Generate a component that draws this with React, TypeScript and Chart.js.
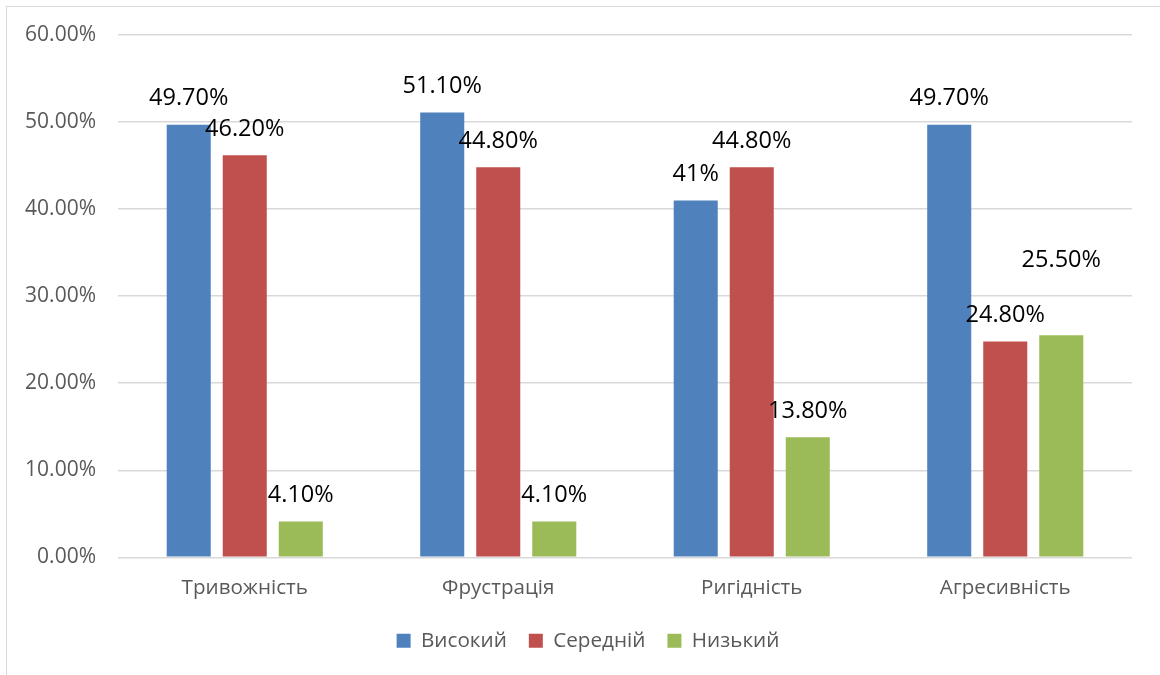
import React, { useEffect, useRef } from "react";
import { Chart, registerables } from "chart.js";

Chart.register(...registerables);

const categories = ["Тривожність", "Фрустрація", "Ригідність", "Агресивність"];
const seriesNames = ["Високий", "Середній", "Низький"];
const highValues = [49.7, 51.1, 41.0, 49.7];
const midValues = [46.2, 44.8, 44.8, 24.8];
const lowValues = [4.1, 4.1, 13.8, 25.5];
const highLabels = ["49.70%", "51.10%", "41%", "49.70%"];
const midLabels = ["46.20%", "44.80%", "44.80%", "24.80%"];
const lowLabels = ["4.10%", "4.10%", "13.80%", "25.50%"];
const yMin = 0;
const yMax = 60;
const yStep = 10;

const colors = ["#4F81BD", "#C0504D", "#9BBB59"];
const FONT = "'Open Sans', 'Noto Sans', sans-serif";

const labelsPlugin = {
  id: "barLabels",
  afterLayout(chart: any) {
    // centre the legend on the whole chart frame, like Excel does
    if (chart.legend) {
      chart.legend.left += 22;
      chart.legend.right += 22;
    }
  },
  afterDatasetsDraw(chart: any) {
    const ctx = chart.ctx;
    const all = [highLabels, midLabels, lowLabels];
    ctx.save();
    ctx.font = `23.5px ${FONT}`;
    ctx.fillStyle = "#000000";
    ctx.textAlign = "center";
    ctx.textBaseline = "middle";
    chart.data.datasets.forEach((ds: any, di: number) => {
      const meta = chart.getDatasetMeta(di);
      meta.data.forEach((bar: any, i: number) => {
        let y = bar.y - 26;
        // Excel moved this label up to avoid overlapping its neighbour
        if (di === 2 && i === 3) y -= 49;
        ctx.fillText(all[di][i], bar.x, y);
      });
    });
    ctx.restore();
  },
};

export default function App() {
  const ref = useRef<HTMLCanvasElement | null>(null);
  useEffect(() => {
    if (!ref.current) return;
    const chart = new Chart(ref.current, {
      type: "bar",
      data: {
        labels: categories,
        datasets: [
          { label: seriesNames[0], data: highValues, backgroundColor: colors[0] },
          { label: seriesNames[1], data: midValues, backgroundColor: colors[1] },
          { label: seriesNames[2], data: lowValues, backgroundColor: colors[2] },
        ],
      },
      options: {
        responsive: false,
        animation: false,
        devicePixelRatio: 1,
        categoryPercentage: 0.663,
        barPercentage: 0.786,
        layout: { padding: { left: 0, right: 28, top: 35, bottom: 14 } },
        plugins: {
          legend: {
            position: "bottom",
            labels: {
              font: { family: FONT, size: 20.7 },
              color: "#595959",
              boxWidth: 14,
              boxHeight: 14,
              padding: 22,
            },
          },
          tooltip: { enabled: false },
        },
        scales: {
          x: {
            grid: { display: false, drawTicks: false },
            border: { display: false },
            ticks: { font: { family: FONT, size: 20.6 }, color: "#595959", padding: 18 },
            afterFit(scale: any) {
              scale.height = 51;
            },
          },
          y: {
            min: yMin,
            max: yMax,
            grid: { color: "#D9D9D9", lineWidth: 1.5, drawTicks: false },
            border: { display: false },
            ticks: {
              stepSize: yStep,
              font: { family: FONT, size: 21 },
              color: "#595959",
              padding: 22,
              callback: (v: any) => Number(v).toFixed(2) + "%",
            },
            afterFit(scale: any) {
              scale.width = 118;
            },
          },
        },
      },
      plugins: [labelsPlugin],
    });
    return () => chart.destroy();
  }, []);

  return (
    <div style={{ position: "absolute", left: 0, top: 0, width: 1160, height: 675, background: "#fff", overflow: "hidden" }}>
      <div
        style={{
          position: "absolute",
          left: 6,
          top: 6,
          width: 1154,
          height: 669,
          borderLeft: "1.5px solid #D9D9D9",
          borderTop: "1.5px solid #D9D9D9",
          boxSizing: "border-box",
        }}
      />
      <canvas ref={ref} width={1160} height={675} style={{ position: "absolute", left: 0, top: 0 }} />
    </div>
  );
}
